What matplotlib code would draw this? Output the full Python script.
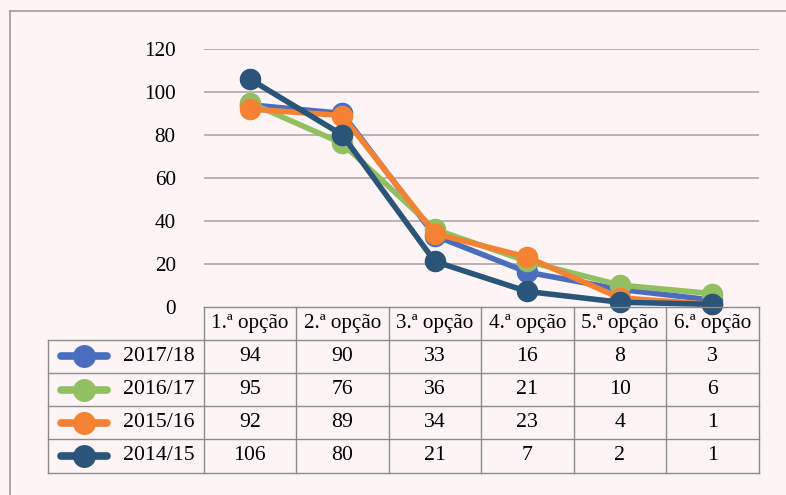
import numpy as np
import matplotlib.pyplot as plt
from matplotlib.lines import Line2D

plt.rcParams['font.family'] = ['Liberation Serif', 'DejaVu Serif']

# data
categories = ['1.ª opção', '2.ª opção', '3.ª opção', '4.ª opção', '5.ª opção', '6.ª opção']
series_names = ['2017/18', '2016/17', '2015/16', '2014/15']
v_2017_18 = [94, 90, 33, 16, 8, 3]
v_2016_17 = [95, 76, 36, 21, 10, 6]
v_2015_16 = [92, 89, 34, 23, 4, 1]
v_2014_15 = [106, 80, 21, 7, 2, 1]
series_values = [v_2017_18, v_2016_17, v_2015_16, v_2014_15]
colors = ['#4a6ebd', '#93bf63', '#f58233', '#2b5479']
y_ticks = [0, 20, 40, 60, 80, 100, 120]

W, H = 786, 495
bg = '#fdf5f5'
grid_c = '#b3acac'
tab_c = '#8e8a8a'
fs = 15.2

fig = plt.figure(figsize=(W / 100, H / 100), dpi=100)
fig.patch.set_facecolor(bg)

def fx(px):
    return px / W

def fy(py):
    return 1 - py / H

# plot area in pixels
x0, x1 = 203.5, 758.5
ytop, ybot = 49, 306.5
ax = fig.add_axes([fx(x0), fy(ybot), fx(x1) - fx(x0), fy(ytop) - fy(ybot)])
ax.set_facecolor(bg)
ax.set_xlim(-0.5, len(categories) - 0.5)
ax.set_ylim(0, 120)
for s in ax.spines.values():
    s.set_visible(False)
ax.set_xticks([])
ax.set_yticks(y_ticks)
ax.set_yticklabels([str(t) for t in y_ticks], fontsize=fs)
ax.tick_params(axis='y', length=0, pad=20)
for t in y_ticks[1:]:
    ax.axhline(t, color=grid_c, lw=1.3, zorder=0)

x = np.arange(len(categories))
for name, vals, c in zip(series_names, series_values, colors):
    ax.plot(x, vals, color=c, lw=4.0, marker='o', ms=14.5, clip_on=False,
            solid_capstyle='round', zorder=3)

# outer frame (top and left edges visible)
fig.add_artist(Line2D([fx(9.5), fx(W + 5)], [fy(10.5), fy(10.5)], color='#a09a9a', lw=1.2))
fig.add_artist(Line2D([fx(9.5), fx(9.5)], [fy(10.5), fy(H + 5)], color='#a09a9a', lw=1.2))

# data table
col_w = (x1 - x0) / len(categories)
row_h = 33.2
head_top = ybot
tab_left = 47.5
col_edges = [x0 + i * col_w for i in range(len(categories) + 1)]
row_edges = [head_top + i * row_h for i in range(len(series_names) + 2)]
lw_t = 1.0

fig.add_artist(Line2D([fx(x0), fx(x1)], [fy(head_top), fy(head_top)], color=tab_c, lw=lw_t))
for r in row_edges[1:]:
    fig.add_artist(Line2D([fx(tab_left), fx(x1)], [fy(r), fy(r)], color=tab_c, lw=lw_t))
for cx in col_edges:
    fig.add_artist(Line2D([fx(cx), fx(cx)], [fy(head_top), fy(row_edges[-1])], color=tab_c, lw=lw_t))
fig.add_artist(Line2D([fx(tab_left), fx(tab_left)], [fy(row_edges[1]), fy(row_edges[-1])], color=tab_c, lw=lw_t))

for j, cat in enumerate(categories):
    fig.text(fx(x0 + (j + 0.5) * col_w), fy(head_top + row_h / 2), cat,
             ha='center', va='center', fontsize=fs)

for i, (name, vals, c) in enumerate(zip(series_names, series_values, colors)):
    yc = row_edges[i + 1] + row_h / 2
    fig.add_artist(Line2D([fx(61), fx(107)], [fy(yc), fy(yc)], color=c, lw=5.5,
                          solid_capstyle='round'))
    fig.add_artist(Line2D([fx(84)], [fy(yc)], color=c, marker='o', ms=15.5, lw=0))
    fig.text(fx(123), fy(yc), name, ha='left', va='center', fontsize=fs + 0.5)
    for j, v in enumerate(vals):
        fig.text(fx(x0 + (j + 0.5) * col_w), fy(yc), str(v), ha='center', va='center', fontsize=fs + 0.5)

fig.savefig('out.png', dpi=100, facecolor=bg)
